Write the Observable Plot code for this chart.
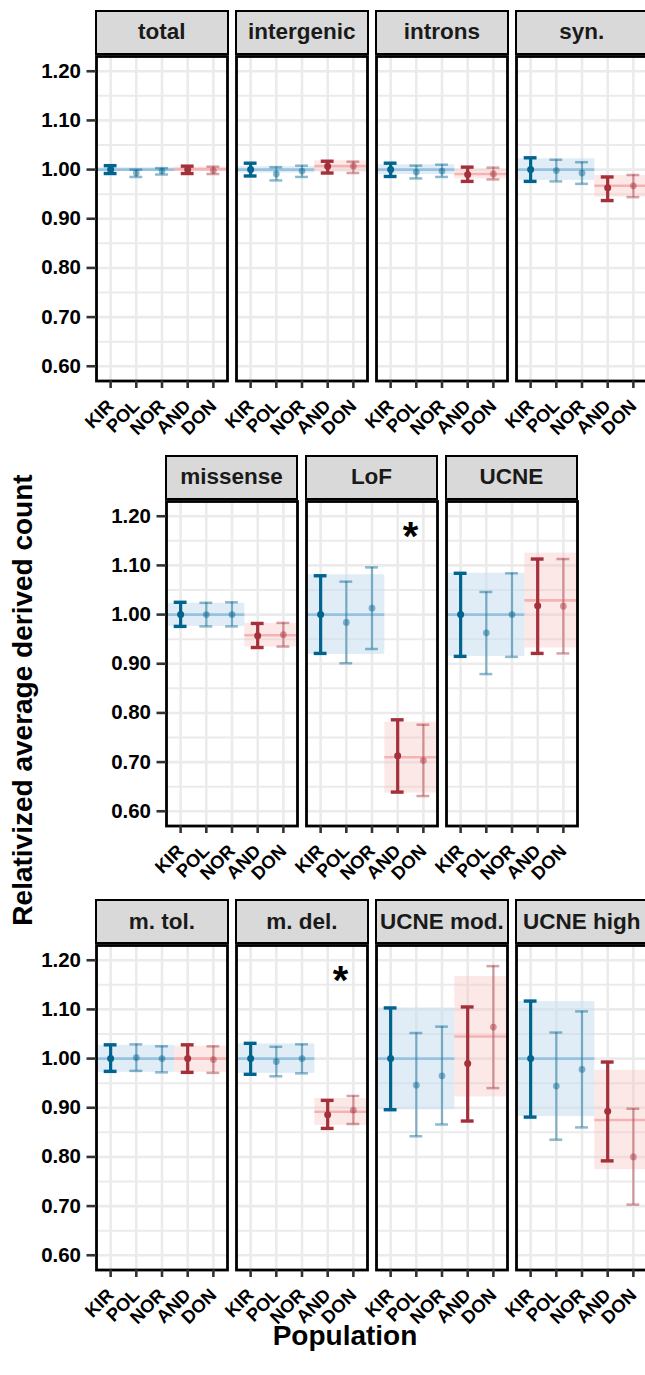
<!DOCTYPE html>
<html><head><meta charset="utf-8">
<script src="https://cdn.jsdelivr.net/npm/d3@7"></script>
<script src="https://cdn.jsdelivr.net/npm/@observablehq/plot@0.6"></script>
<style>
body{margin:0;background:#fff;}
#root{position:relative;width:645px;height:1375px;overflow:hidden;background:#fff;font-family:"Liberation Sans",Arial,sans-serif;}
.strip{position:absolute;box-sizing:border-box;background:#d9d9d9;border:2.6px solid #000;display:flex;align-items:center;justify-content:center;font-weight:bold;font-size:22.5px;color:#1a1a1a;white-space:nowrap;}
.panel{position:absolute;}
.title{position:absolute;font-weight:bold;font-size:28px;color:#000;white-space:nowrap;line-height:1;}
</style></head><body><div id="root"></div>
<script>
// ---- data ----
const populations = ["KIR","POL","NOR","AND","DON"];
const populationGroup = ["blue","blue","blue","red","red"];
const categories = ["total","intergenic","introns","syn.","missense","LoF","UCNE","m. tol.","m. del.","UCNE mod.","UCNE high"];
const meanValues = [
 [1.000,0.993,0.997,1.000,0.998],
 [1.000,0.991,0.997,1.007,1.007],
 [1.000,0.995,0.997,0.990,0.991],
 [1.000,0.998,0.993,0.963,0.967],
 [1.000,1.000,1.000,0.957,0.959],
 [1.000,0.984,1.013,0.713,0.703],
 [1.000,0.963,1.000,1.018,1.017],
 [1.000,1.002,1.000,1.000,0.998],
 [1.000,0.994,1.000,0.886,0.895],
 [1.000,0.946,0.965,0.990,1.064],
 [1.000,0.944,0.978,0.893,0.800]
];
const lowerCI = [
 [0.992,0.985,0.990,0.992,0.991],
 [0.987,0.978,0.985,0.993,0.993],
 [0.986,0.982,0.985,0.976,0.980],
 [0.976,0.976,0.971,0.937,0.944],
 [0.976,0.976,0.976,0.933,0.935],
 [0.921,0.901,0.930,0.639,0.631],
 [0.915,0.879,0.914,0.921,0.921],
 [0.974,0.975,0.972,0.972,0.971],
 [0.968,0.964,0.970,0.858,0.867],
 [0.896,0.842,0.866,0.873,0.940],
 [0.881,0.835,0.860,0.792,0.703]
];
const upperCI = [
 [1.008,1.000,1.003,1.007,1.006],
 [1.013,1.005,1.008,1.017,1.016],
 [1.013,1.008,1.010,1.005,1.004],
 [1.024,1.020,1.015,0.985,0.989],
 [1.025,1.024,1.025,0.982,0.983],
 [1.079,1.067,1.096,0.786,0.776],
 [1.084,1.046,1.084,1.113,1.113],
 [1.028,1.029,1.025,1.028,1.025],
 [1.031,1.024,1.029,0.915,0.924],
 [1.103,1.052,1.065,1.105,1.188],
 [1.117,1.053,1.096,0.993,0.898]
];
const blueMean = [1.000,1.000,1.000,1.000,1.000,1.000,1.000,1.000,1.000,1.000,1.000];
const blueLow  = [0.996,0.993,0.990,0.978,0.976,0.919,0.915,0.972,0.970,0.896,0.882];
const blueHigh = [1.004,1.006,1.010,1.022,1.023,1.081,1.084,1.027,1.030,1.103,1.116];
const redMean  = [1.001,1.007,0.991,0.967,0.958,0.710,1.029,1.000,0.892,1.045,0.875];
const redLow   = [0.996,0.995,0.981,0.944,0.934,0.637,0.932,0.972,0.864,0.922,0.774];
const redHigh  = [1.005,1.018,1.001,0.988,0.982,0.781,1.125,1.025,0.919,1.167,0.976];
const significant = ["LoF","m. del."];
const yTicks = [0.6,0.7,0.8,0.9,1.0,1.1,1.2];
const yMinorTicks = [0.65,0.75,0.85,0.95,1.05,1.15];
const xLabel = "Population";
const yLabel = "Relativized average derived count";

// ---- layout / style ----
const rows = [[0,1,2,3],[4,5,6],[7,8,9,10]];
const rowLeft = [96.3, 166, 96.3];
const rowTop = [55.95, 500.95, 945.25];
const pitch = 140;
const X0 = -0.55, X1 = 4.55, Y0 = 0.57, Y1 = 1.23;
const PW = 131, PH = (Y1 - Y0) * 491.7;
const FONT = '"Liberation Sans", Arial, sans-serif';
const colors = {blue: "#00648f", red: "#a3303a"};
const bandFill = {blue: "#c6dff1", red: "#f9c0c0"};
const bandOpacity = {blue: 0.55, red: 0.36};
const bandLine = {blue: "#98c3e0", red: "#f5b2b2"};

const root = document.getElementById("root");

function panel(ci, showY) {
  const pts = populations.map((p, i) => ({
    pop: p, i, mean: meanValues[ci][i], lo: lowerCI[ci][i], hi: upperCI[ci][i],
    strong: i === 0 || i === 3,
    color: colors[populationGroup[i]],
    op: (i === 0 || i === 3) ? 1 : 0.45
  }));
  const bands = [
    {g: "blue", x1: X0, x2: 2.5, lo: blueLow[ci], mean: blueMean[ci], hi: blueHigh[ci]},
    {g: "red", x1: 2.5, x2: X1, lo: redLow[ci], mean: redMean[ci], hi: redHigh[ci]}
  ];
  const strong = pts.filter(d => d.strong), faint = pts.filter(d => !d.strong);
  const capHalf = 0.25;
  const mL = showY ? 100 : 6, mR = 6, mT = 6, mB = 80;
  const marks = [
    Plot.gridY({ticks: yMinorTicks, stroke: "#ebebeb", strokeOpacity: 1, strokeWidth: 2}),
    Plot.gridY({ticks: yTicks, stroke: "#ebebeb", strokeOpacity: 1, strokeWidth: 2.6}),
    Plot.gridX({ticks: [0,1,2,3,4], stroke: "#ebebeb", strokeOpacity: 1, strokeWidth: 2.6}),
    Plot.rect(bands, {x1: "x1", x2: "x2", y1: "lo", y2: "hi", fill: d => bandFill[d.g], fillOpacity: d => bandOpacity[d.g]}),
    Plot.ruleY(bands, {y: "mean", x1: "x1", x2: "x2", stroke: d => bandLine[d.g], strokeWidth: 2.6}),
  ];
  for (const [set, w, cw, r] of [[faint, 2.2, 2.5, 3.4], [strong, 3.2, 3.4, 3.5]]) {
    marks.push(
      Plot.ruleX(set, {x: "i", y1: "lo", y2: "hi", stroke: "color", strokeOpacity: "op", strokeWidth: w}),
      Plot.ruleY(set, {y: "hi", x1: d => d.i - capHalf, x2: d => d.i + capHalf, stroke: "color", strokeOpacity: "op", strokeWidth: cw}),
      Plot.ruleY(set, {y: "lo", x1: d => d.i - capHalf, x2: d => d.i + capHalf, stroke: "color", strokeOpacity: "op", strokeWidth: cw}),
      Plot.dot(set, {x: "i", y: "mean", r, fill: "color", fillOpacity: "op", stroke: null})
    );
  }
  if (significant.includes(categories[ci])) {
    marks.push(Plot.text([{x: 3.5, y: 1.157}], {x: "x", y: "y", text: () => "*", fontSize: 40, fontWeight: "bold", fill: "#000", lineAnchor: "middle"}));
  }
  marks.push(Plot.frame({stroke: "#000", strokeWidth: 2.8}));
  marks.push(Plot.axisX({ticks: [0,1,2,3,4], tickFormat: i => populations[i], tickRotate: -45, tickSize: 7.5, tickPadding: 14.5,
    textAnchor: "end", lineAnchor: "middle", fontSize: 18.3, fontWeight: "bold", stroke: "#333", strokeWidth: 2.6, fill: "#000", label: null}));
  if (showY) {
    marks.push(Plot.axisY({ticks: yTicks, tickFormat: d => d.toFixed(2), tickSize: 9.5, tickPadding: 6,
      fontSize: 20.5, fontWeight: "bold", stroke: "#333", strokeWidth: 2.6, fill: "#000", label: null}));
  }
  const svg = Plot.plot({
    width: mL + PW + mR, height: mT + PH + mB,
    marginLeft: mL, marginRight: mR, marginTop: mT, marginBottom: mB,
    x: {domain: [X0, X1], axis: null},
    y: {domain: [Y0, Y1], axis: null},
    style: {background: "transparent", overflow: "visible", fontFamily: FONT},
    marks
  });
  return {svg, mL, mT};
}

rows.forEach((row, r) => {
  row.forEach((ci, k) => {
    const left = rowLeft[r] + k * pitch;
    const top = rowTop[r];
    const {svg, mL, mT} = panel(ci, k === 0);
    svg.classList.add("panel");
    svg.style.position = "absolute";
    svg.style.left = (left - mL) + "px";
    svg.style.top = (top - mT) + "px";
    svg.style.maxWidth = "none";
    root.appendChild(svg);
    const strip = document.createElement("div");
    strip.className = "strip";
    strip.style.left = (left - 1.4) + "px";
    strip.style.width = (PW + 2.8) + "px";
    strip.style.top = (top - 46) + "px";
    strip.style.height = "45px";
    strip.textContent = categories[ci];
    root.appendChild(strip);
  });
});

const yt = document.createElement("div");
yt.className = "title";
yt.textContent = yLabel;
yt.style.left = "23px"; yt.style.top = "700px";
yt.style.transform = "translate(-50%,-50%) rotate(-90deg)";
root.appendChild(yt);

const xt = document.createElement("div");
xt.className = "title";
xt.textContent = xLabel;
xt.style.left = "345px"; xt.style.top = "1336px";
xt.style.transform = "translate(-50%,-50%)";
root.appendChild(xt);
</script></body></html>
